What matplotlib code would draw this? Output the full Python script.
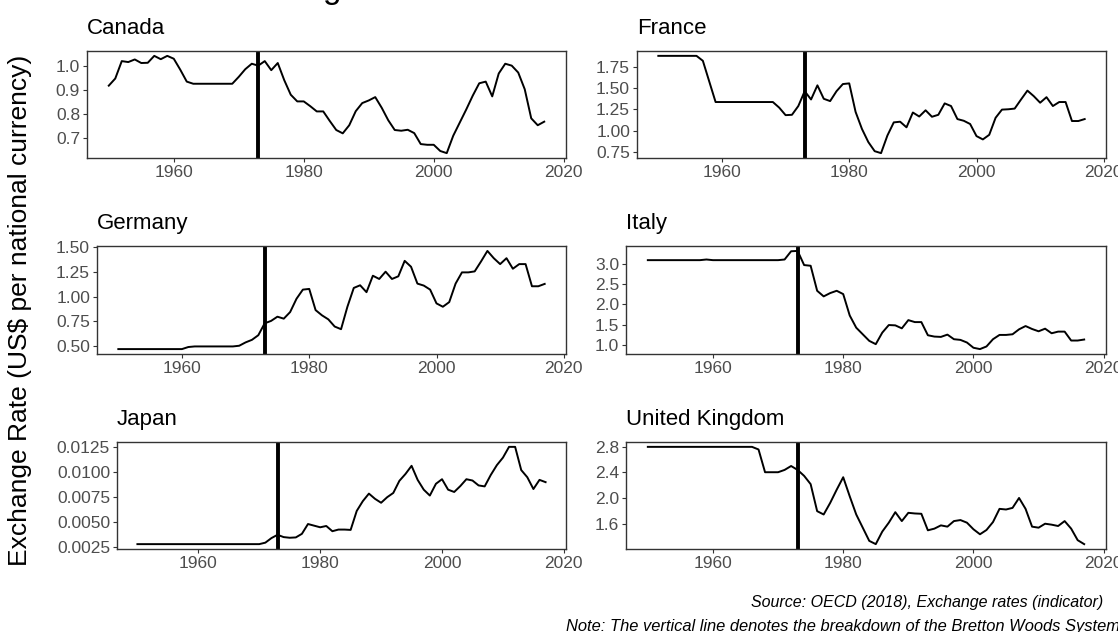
import numpy as np
import matplotlib
matplotlib.use('Agg')
import matplotlib.pyplot as plt

plt.rcParams['font.family'] = ['Liberation Sans', 'DejaVu Sans']

YEARS = list(range(1950, 2018))
BREAK_YEAR = 1973

canada = [
    0.919, 0.949, 1.022, 1.018, 1.029, 1.014, 1.015, 1.044, 1.030, 1.044,
    1.032, 0.986, 0.936, 0.927, 0.927, 0.927, 0.927, 0.927, 0.927, 0.927,
    0.956, 0.988, 1.011, 1.003, 1.022, 0.984, 1.014, 0.942, 0.881, 0.853,
    0.853, 0.833, 0.811, 0.811, 0.771, 0.733, 0.719, 0.753, 0.812, 0.846,
    0.857, 0.871, 0.826, 0.774, 0.733, 0.730, 0.734, 0.720, 0.674, 0.671,
    0.671, 0.645, 0.636, 0.709, 0.764, 0.819, 0.877, 0.929, 0.936, 0.874,
    0.970, 1.011, 1.003, 0.974, 0.904, 0.782, 0.753, 0.768,
]
france = [
    1.877, 1.877, 1.877, 1.877, 1.877, 1.877, 1.877, 1.819, 1.577, 1.335,
    1.335, 1.335, 1.335, 1.335, 1.335, 1.335, 1.335, 1.335, 1.335, 1.269,
    1.181, 1.185, 1.288, 1.462, 1.365, 1.531, 1.373, 1.346, 1.462, 1.546,
    1.554, 1.219, 1.019, 0.865, 0.758, 0.735, 0.942, 1.096, 1.104, 1.038,
    1.212, 1.165, 1.238, 1.162, 1.185, 1.319, 1.288, 1.135, 1.115, 1.077,
    0.935, 0.896, 0.950, 1.150, 1.246, 1.250, 1.258, 1.365, 1.469, 1.404,
    1.327, 1.392, 1.288, 1.335, 1.335, 1.112, 1.112, 1.135,
]
germany = [
    0.466, 0.466, 0.466, 0.466, 0.466, 0.466, 0.466, 0.466, 0.466, 0.466,
    0.466, 0.487, 0.493, 0.493, 0.493, 0.493, 0.493, 0.493, 0.493, 0.500,
    0.534, 0.560, 0.607, 0.728, 0.752, 0.795, 0.775, 0.842, 0.977, 1.070,
    1.077, 0.862, 0.809, 0.768, 0.695, 0.668, 0.896, 1.087, 1.114, 1.044,
    1.211, 1.178, 1.252, 1.178, 1.205, 1.362, 1.302, 1.131, 1.111, 1.070,
    0.930, 0.896, 0.943, 1.131, 1.245, 1.245, 1.255, 1.356, 1.463, 1.389,
    1.329, 1.389, 1.282, 1.329, 1.329, 1.104, 1.104, 1.128,
]
italy = [
    3.098, 3.098, 3.098, 3.098, 3.098, 3.098, 3.098, 3.098, 3.098, 3.114,
    3.098, 3.098, 3.098, 3.098, 3.098, 3.098, 3.098, 3.098, 3.098, 3.098,
    3.098, 3.114, 3.318, 3.327, 2.976, 2.959, 2.339, 2.200, 2.282, 2.339,
    2.257, 1.727, 1.424, 1.261, 1.098, 1.016, 1.302, 1.490, 1.482, 1.408,
    1.612, 1.563, 1.563, 1.237, 1.204, 1.196, 1.253, 1.139, 1.122, 1.057,
    0.927, 0.894, 0.959, 1.139, 1.245, 1.245, 1.261, 1.384, 1.465, 1.392,
    1.335, 1.400, 1.286, 1.327, 1.327, 1.106, 1.106, 1.131,
]
japan = [
    0.002778, 0.002778, 0.002778, 0.002778, 0.002778, 0.002778, 0.002778, 0.002778, 0.002778, 0.002778,
    0.002778, 0.002778, 0.002778, 0.002778, 0.002778, 0.002778, 0.002778, 0.002778, 0.002778, 0.002778,
    0.002778, 0.002926, 0.003385, 0.003713, 0.003484, 0.003418, 0.003451, 0.003811, 0.004795, 0.004631,
    0.004467, 0.004598, 0.004074, 0.004238, 0.004238, 0.004205, 0.006107, 0.007090, 0.007844, 0.007320,
    0.006926, 0.007484, 0.007910, 0.009123, 0.009812, 0.010631, 0.009221, 0.008238, 0.007648, 0.008828,
    0.009287, 0.008238, 0.008008, 0.008598, 0.009287, 0.009156, 0.008664, 0.008566, 0.009713, 0.010697,
    0.011451, 0.012530, 0.012530, 0.010205, 0.009484, 0.008303, 0.009221, 0.008992,
]
uk = [
    2.800, 2.800, 2.800, 2.800, 2.800, 2.800, 2.800, 2.800, 2.800, 2.800,
    2.800, 2.800, 2.800, 2.800, 2.800, 2.800, 2.800, 2.759, 2.404, 2.404,
    2.404, 2.440, 2.501, 2.440, 2.347, 2.218, 1.796, 1.744, 1.925, 2.131,
    2.326, 2.028, 1.744, 1.538, 1.332, 1.281, 1.477, 1.616, 1.780, 1.641,
    1.770, 1.760, 1.755, 1.497, 1.523, 1.574, 1.554, 1.641, 1.657, 1.616,
    1.513, 1.435, 1.502, 1.626, 1.832, 1.822, 1.847, 2.002, 1.832, 1.554,
    1.538, 1.600, 1.585, 1.564, 1.641, 1.523, 1.343, 1.281,
]

COUNTRIES = ['Canada', 'France', 'Germany', 'Italy', 'Japan', 'United Kingdom']
SERIES = [canada, france, germany, italy, japan, uk]
Y_TICKS = [
    [0.7, 0.8, 0.9, 1.0],
    [0.75, 1.00, 1.25, 1.50, 1.75],
    [0.50, 0.75, 1.00, 1.25, 1.50],
    [1.0, 1.5, 2.0, 2.5, 3.0],
    [0.0025, 0.0050, 0.0075, 0.0100, 0.0125],
    [1.6, 2.0, 2.4, 2.8],
]
Y_FMT = ['{:.1f}', '{:.2f}', '{:.2f}', '{:.1f}', '{:.4f}', '{:.1f}']
X_TICKS = [1960, 1980, 2000, 2020]

W, H = 1118, 632
# panel boxes in pixels: left, top, right, bottom
BOXES = [
    (87, 51, 566, 158), (637, 51, 1106, 158),
    (97, 246, 566, 354), (626, 246, 1106, 354),
    (117, 442, 566, 549), (626, 442, 1106, 549),
]

fig = plt.figure(figsize=(W / 100, H / 100), dpi=100)

for name, vals, yt, fmt, (l, t, r, b) in zip(COUNTRIES, SERIES, Y_TICKS, Y_FMT, BOXES):
    ax = fig.add_axes([l / W, 1 - b / H, (r - l) / W, (b - t) / H])
    ax.plot(YEARS, vals, color='black', lw=1.4, solid_joinstyle='round')
    ax.axvline(BREAK_YEAR, color='black', lw=2.8)
    ax.margins(x=0.05, y=0.05)
    ax.set_xticks(X_TICKS)
    ax.set_yticks(yt)
    ax.set_yticklabels([fmt.format(v) for v in yt])
    for s in ax.spines.values():
        s.set_color('#333333')
        s.set_linewidth(1.0)
    ax.tick_params(length=3, width=0.8, color='#333333', labelcolor='#4D4D4D',
                   labelsize=12.5, pad=2)
    ax.set_title(name, loc='left', fontsize=16, pad=12)

fig.text(20 / W, 1 - 310 / H, 'Exchange Rate (US$ per national currency)',
         rotation=90, ha='center', va='center', fontsize=19)

fig.text(80 / W, 1.003, 'Nominal Exchange Rates', ha='left', va='baseline', fontsize=24)

fig.text(1103 / W, 1 - 603 / H, 'Source: OECD (2018), Exchange rates (indicator)',
         ha='right', va='center', fontsize=11.5, style='italic')
fig.text(566 / W, 1 - 626 / H,
         'Note: The vertical line denotes the breakdown of the Bretton Woods System',
         ha='left', va='center', fontsize=11.9, style='italic')

fig.savefig('out.png', dpi=100)
